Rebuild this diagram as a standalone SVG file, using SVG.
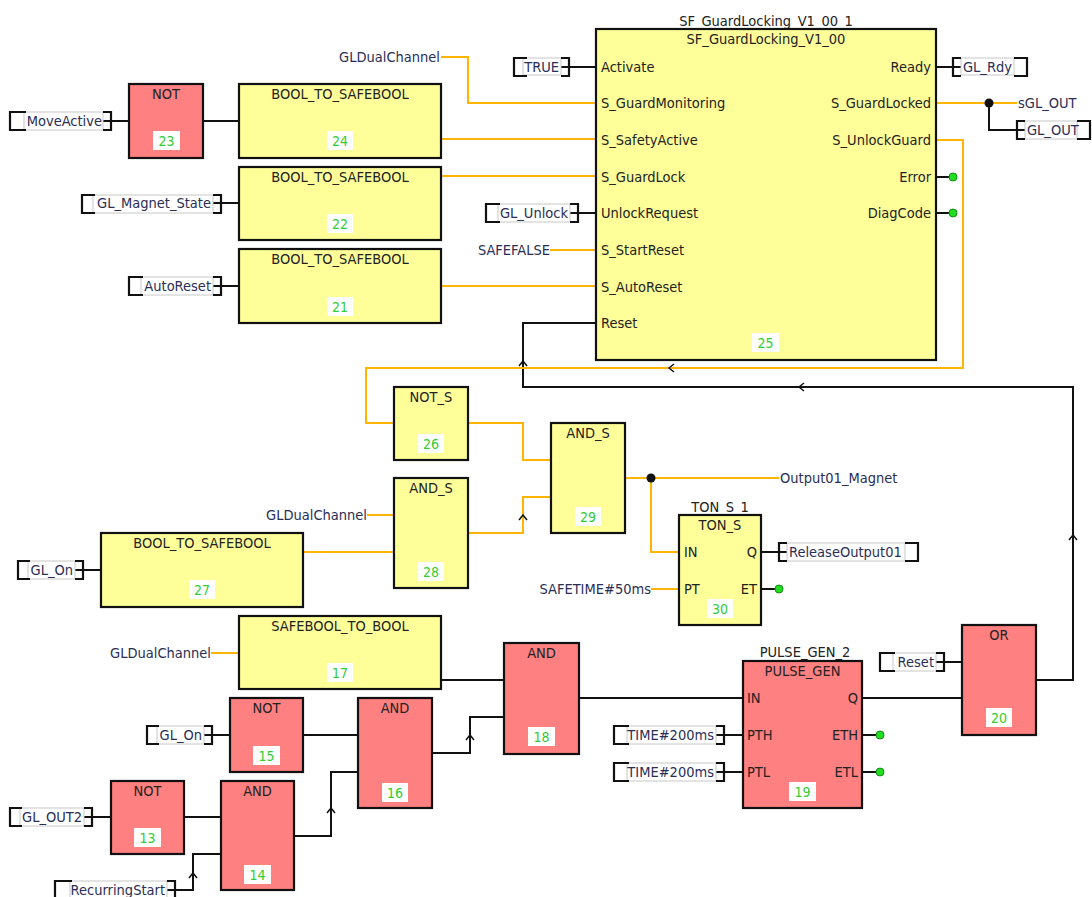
<svg xmlns="http://www.w3.org/2000/svg" width="1092" height="897" viewBox="0 0 1092 897">
<style>
.by{fill:#ffff99;stroke:#111;stroke-width:2.2}
.br{fill:#ff8080;stroke:#111;stroke-width:2.2}
text{font-family:"DejaVu Sans Condensed","DejaVu Sans","Liberation Sans",sans-serif;font-stretch:condensed;font-size:14.5px;fill:#222}
.c{text-anchor:middle}
.e{text-anchor:end}
.v{fill:#2a2e55}
.num{fill:#33cc33;font-size:14px;text-anchor:middle}
.nb{fill:#fff}
.w{stroke:#111;stroke-width:2;fill:none}
.s{stroke:#ffb400;stroke-width:2;fill:none}
.bk{stroke:#111;stroke-width:2.2;fill:none}
.vb{fill:#fff;stroke:#c8c8c8;stroke-width:1}
.dot{fill:#22dd22;stroke:#129012;stroke-width:1}
.ch{stroke:#111;stroke-width:1.5;fill:none}
</style>
<rect width="1092" height="897" fill="#fff"/>

<g id="connectors">
<!-- black wires -->
<path class="w" d="M103,121H129"/>
<path class="w" d="M203,121H239"/>
<path class="w" d="M213,203H239"/>
<path class="w" d="M213,286H239"/>
<path class="w" d="M561,67H596"/>
<path class="w" d="M570,213H596"/>
<path class="w" d="M936,67H961"/>
<path class="w" d="M936,177H953"/>
<path class="w" d="M936,213H953"/>
<path class="w" d="M989,103V130H1025"/>
<path class="w" d="M1036,680H1073V387H523V323H596"/>
<path class="w" d="M75,570H101"/>
<path class="w" d="M761,552H787"/>
<path class="w" d="M761,589H779"/>
<path class="w" d="M441,680H504"/>
<path class="w" d="M204,735H230"/>
<path class="w" d="M303,735H358"/>
<path class="w" d="M432,753H470V717H504"/>
<path class="w" d="M84,817H111"/>
<path class="w" d="M184,817H221"/>
<path class="w" d="M167,890H193V854H221"/>
<path class="w" d="M294,836H331V772H358"/>
<path class="w" d="M579,698H743"/>
<path class="w" d="M716,735H743"/>
<path class="w" d="M716,772H743"/>
<path class="w" d="M862,735H880"/>
<path class="w" d="M862,772H880"/>
<path class="w" d="M862,698H962"/>
<path class="w" d="M936,662H962"/>
<!-- orange wires -->
<path class="s" d="M441,57H468V103H596"/>
<path class="s" d="M441,139H596"/>
<path class="s" d="M441,176H596"/>
<path class="s" d="M550,250H596"/>
<path class="s" d="M441,286H596"/>
<path class="s" d="M936,103H1017"/>
<path class="s" d="M936,140H963V368H366V423H394"/>
<path class="s" d="M468,423H523V460H551"/>
<path class="s" d="M367,515H394"/>
<path class="s" d="M303,552H394"/>
<path class="s" d="M468,533H523V497H551"/>
<path class="s" d="M625,478H779"/>
<path class="s" d="M651,478V552H679"/>
<path class="s" d="M651,589H679"/>
<path class="s" d="M211,653H239"/>
<!-- junctions and open outputs -->
<circle cx="989" cy="103" r="4.5" fill="#111"/>
<circle cx="651" cy="478" r="4.5" fill="#111"/>
<circle class="dot" cx="953" cy="177" r="4"/>
<circle class="dot" cx="953" cy="213" r="4"/>
<circle class="dot" cx="779" cy="589" r="4"/>
<circle class="dot" cx="880" cy="735" r="4"/>
<circle class="dot" cx="880" cy="772" r="4"/>
<!-- direction chevrons -->
<path class="ch" d="M519,366L523,361L527,366"/>
<path class="ch" d="M674,364L669,368L674,372"/>
<path class="ch" d="M804,383L799,387L804,391"/>
<path class="ch" d="M1069,540L1073,535L1077,540"/>
<path class="ch" d="M519,520L523,515L527,520"/>
<path class="ch" d="M466,740L470,735L474,740"/>
<path class="ch" d="M327,813L331,808L335,813"/>
<path class="ch" d="M189,878L193,873L197,878"/>
</g>

<!-- free texts -->
<g id="labels">
<text class="e v" x="440" y="62">GLDualChannel</text>
<text class="e v" x="550" y="255">SAFEFALSE</text>
<text class="v" x="1018" y="108">sGL_OUT</text>
<text class="v" x="780" y="483">Output01_Magnet</text>
<text class="e v" x="367" y="520">GLDualChannel</text>
<text class="e v" x="651" y="594">SAFETIME#50ms</text>
<text class="e v" x="211" y="658">GLDualChannel</text>
</g>

<!-- variable boxes (inputs: text right) -->
<g id="v_MoveActive"><rect class="vb" x="24" y="112" width="79" height="18"/><path class="bk" d="M26,112H10V130H26M103,112H111V130H103"/><text class="e v" x="102" y="126">MoveActive</text></g>
<g id="v_GL_Magnet_State"><rect class="vb" x="93" y="195" width="120" height="18"/><path class="bk" d="M95,195H82V213H95M213,195H221V213H213"/><text class="e v" x="211" y="208">GL_Magnet_State</text></g>
<g id="v_AutoReset"><rect class="vb" x="141" y="277" width="72" height="18"/><path class="bk" d="M143,277H129V295H143M213,277H221V295H213"/><text class="e v" x="211" y="291">AutoReset</text></g>
<g id="v_TRUE"><rect class="vb" x="523" y="58" width="38" height="17"/><path class="bk" d="M527,58H514V76H527M561,58H569V76H561"/><text class="e v" x="559" y="72">TRUE</text></g>
<g id="v_GL_Unlock"><rect class="vb" x="498" y="204" width="72" height="18"/><path class="bk" d="M500,204H486V222H500M570,204H578V222H570"/><text class="e v" x="568" y="218">GL_Unlock</text></g>
<g id="v_GL_On_1"><rect class="vb" x="28" y="561" width="47" height="18"/><path class="bk" d="M30,561H18V579H30M75,561H83V579H75"/><text class="e v" x="73" y="575">GL_On</text></g>
<g id="v_GL_On_2"><rect class="vb" x="157" y="726" width="47" height="18"/><path class="bk" d="M159,726H147V744H159M204,726H212V744H204"/><text class="e v" x="202" y="740">GL_On</text></g>
<g id="v_GL_OUT2"><rect class="vb" x="20" y="808" width="64" height="18"/><path class="bk" d="M22,808H10V826H22M84,808H92V826H84"/><text class="e v" x="82" y="822">GL_OUT2</text></g>
<g id="v_RecurringStart"><rect class="vb" x="70" y="881" width="97" height="18"/><path class="bk" d="M72,881H55V899H72M167,881H175V899H167"/><text class="e v" x="165" y="895">RecurringStart</text></g>
<g id="v_TIME_PTH"><rect class="vb" x="627" y="726" width="89" height="18"/><path class="bk" d="M629,726H614V744H629M716,726H724V744H716"/><text class="e v" x="714" y="740">TIME#200ms</text></g>
<g id="v_TIME_PTL"><rect class="vb" x="627" y="763" width="89" height="18"/><path class="bk" d="M629,763H614V781H629M716,763H724V781H716"/><text class="e v" x="714" y="777">TIME#200ms</text></g>
<g id="v_Reset"><rect class="vb" x="893" y="653" width="43" height="18"/><path class="bk" d="M895,653H880V671H895M936,653H944V671H936"/><text class="e v" x="934" y="667">Reset</text></g>
<!-- variable boxes (outputs: text left) -->
<g id="v_GL_Rdy"><rect class="vb" x="961" y="58" width="53" height="17"/><path class="bk" d="M961,58H953V76H961M1014,58H1027V76H1014"/><text class="v" x="963" y="72">GL_Rdy</text></g>
<g id="v_GL_OUT"><rect class="vb" x="1025" y="121" width="52" height="18"/><path class="bk" d="M1025,121H1017V139H1025M1077,121H1090V139H1077"/><text class="v" x="1027" y="135">GL_OUT</text></g>
<g id="v_ReleaseOutput01"><rect class="vb" x="787" y="543" width="118" height="18"/><path class="bk" d="M787,543H779V561H787M905,543H918V561H905"/><text class="v" x="789" y="557">ReleaseOutput01</text></g>

<!-- blocks -->
<g id="n23"><rect class="br" x="129" y="84" width="74" height="74"/><text class="c" x="166" y="99">NOT</text><rect class="nb" x="153" y="131" width="27" height="19"/><text class="num" x="166.5" y="146">23</text></g>
<g id="n24"><rect class="by" x="239" y="84" width="202" height="74"/><text class="c" x="340" y="99">BOOL_TO_SAFEBOOL</text><rect class="nb" x="327" y="131" width="26" height="19"/><text class="num" x="340" y="146">24</text></g>
<g id="n22"><rect class="by" x="239" y="167" width="202" height="73"/><text class="c" x="340" y="182">BOOL_TO_SAFEBOOL</text><rect class="nb" x="327" y="214" width="26" height="19"/><text class="num" x="340" y="229">22</text></g>
<g id="n21"><rect class="by" x="239" y="249" width="202" height="74"/><text class="c" x="340" y="264">BOOL_TO_SAFEBOOL</text><rect class="nb" x="327" y="297" width="26" height="19"/><text class="num" x="340" y="312">21</text></g>

<g id="n25">
<text class="c" x="766" y="26">SF_GuardLocking_V1_00_1</text>
<rect class="by" x="596" y="29" width="340" height="331"/>
<text class="c" x="766" y="44">SF_GuardLocking_V1_00</text>
<text x="601" y="72">Activate</text>
<text x="601" y="108">S_GuardMonitoring</text>
<text x="601" y="145">S_SafetyActive</text>
<text x="601" y="182">S_GuardLock</text>
<text x="601" y="218">UnlockRequest</text>
<text x="601" y="255">S_StartReset</text>
<text x="601" y="292">S_AutoReset</text>
<text x="601" y="328">Reset</text>
<text class="e" x="931" y="72">Ready</text>
<text class="e" x="931" y="108">S_GuardLocked</text>
<text class="e" x="931" y="145">S_UnlockGuard</text>
<text class="e" x="931" y="182">Error</text>
<text class="e" x="931" y="218">DiagCode</text>
<rect class="nb" x="752" y="333" width="27" height="19"/><text class="num" x="765.5" y="348">25</text>
</g>

<g id="n26"><rect class="by" x="394" y="387" width="74" height="73"/><text class="c" x="431" y="402">NOT_S</text><rect class="nb" x="418" y="434" width="26" height="19"/><text class="num" x="431" y="449">26</text></g>
<g id="n28"><rect class="by" x="394" y="478" width="74" height="110"/><text class="c" x="431" y="493">AND_S</text><rect class="nb" x="418" y="562" width="26" height="19"/><text class="num" x="431" y="577">28</text></g>
<g id="n29"><rect class="by" x="551" y="423" width="74" height="110"/><text class="c" x="588" y="438">AND_S</text><rect class="nb" x="575" y="507" width="26" height="19"/><text class="num" x="588" y="522">29</text></g>
<g id="n27"><rect class="by" x="101" y="533" width="202" height="74"/><text class="c" x="202" y="548">BOOL_TO_SAFEBOOL</text><rect class="nb" x="189" y="580" width="26" height="19"/><text class="num" x="202" y="595">27</text></g>

<g id="n30">
<text class="c" x="720" y="512">TON_S_1</text>
<rect class="by" x="679" y="515" width="82" height="110"/>
<text class="c" x="720" y="530">TON_S</text>
<text x="684" y="557">IN</text>
<text x="684" y="594">PT</text>
<text class="e" x="757" y="557">Q</text>
<text class="e" x="757" y="594">ET</text>
<rect class="nb" x="707" y="599" width="26" height="19"/><text class="num" x="720" y="614">30</text>
</g>

<g id="n17"><rect class="by" x="239" y="616" width="202" height="73"/><text class="c" x="340" y="631">SAFEBOOL_TO_BOOL</text><rect class="nb" x="327" y="663" width="26" height="19"/><text class="num" x="340" y="678">17</text></g>
<g id="n15"><rect class="br" x="230" y="698" width="73" height="74"/><text class="c" x="266.5" y="713">NOT</text><rect class="nb" x="253" y="746" width="27" height="19"/><text class="num" x="266.5" y="761">15</text></g>
<g id="n16"><rect class="br" x="358" y="698" width="74" height="110"/><text class="c" x="395" y="713">AND</text><rect class="nb" x="382" y="783" width="26" height="19"/><text class="num" x="395" y="798">16</text></g>
<g id="n13"><rect class="br" x="111" y="781" width="73" height="73"/><text class="c" x="147.5" y="796">NOT</text><rect class="nb" x="134" y="828" width="27" height="19"/><text class="num" x="147.5" y="843">13</text></g>
<g id="n14"><rect class="br" x="221" y="781" width="73" height="109"/><text class="c" x="257.5" y="796">AND</text><rect class="nb" x="244" y="865" width="27" height="19"/><text class="num" x="257.5" y="880">14</text></g>
<g id="n18"><rect class="br" x="504" y="643" width="75" height="111"/><text class="c" x="541.5" y="658">AND</text><rect class="nb" x="528" y="727" width="27" height="19"/><text class="num" x="541.5" y="742">18</text></g>

<g id="n19">
<text class="c" x="805" y="657">PULSE_GEN_2</text>
<rect class="br" x="743" y="661" width="119" height="147"/>
<text class="c" x="802.5" y="676">PULSE_GEN</text>
<text x="747" y="703">IN</text>
<text x="747" y="740">PTH</text>
<text x="747" y="777">PTL</text>
<text class="e" x="858" y="703">Q</text>
<text class="e" x="858" y="740">ETH</text>
<text class="e" x="858" y="777">ETL</text>
<rect class="nb" x="789" y="782" width="27" height="19"/><text class="num" x="802.5" y="797">19</text>
</g>

<g id="n20"><rect class="br" x="962" y="625" width="74" height="110"/><text class="c" x="999" y="640">OR</text><rect class="nb" x="986" y="708" width="26" height="19"/><text class="num" x="999" y="723">20</text></g>
</svg>
